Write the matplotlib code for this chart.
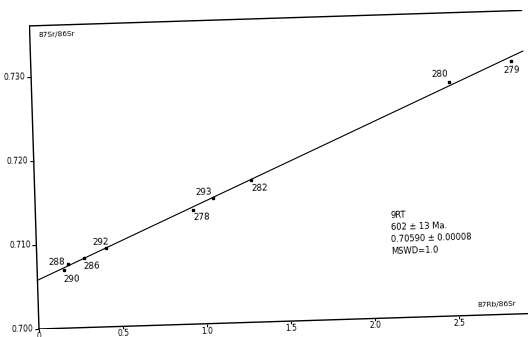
import matplotlib
matplotlib.use("Agg")
import matplotlib.pyplot as plt
import numpy as np
from matplotlib.transforms import Affine2D
from mpl_toolkits.axisartist import floating_axes
from mpl_toolkits.axisartist.grid_finder import FixedLocator, DictFormatter

# ---------------- data ----------------
sample_ids = ["290", "288", "286", "292", "278", "293", "282", "280", "279"]
rb_sr = [0.160, 0.185, 0.281, 0.414, 0.938, 1.060, 1.289, 2.485, 2.858]
sr_sr = [0.70693, 0.70763, 0.70828, 0.70939, 0.71358, 0.71494, 0.71694, 0.72786, 0.73012]

iso_intercept = 0.7058
iso_slope = 0.00869

x_ticks = [0.0, 0.5, 1.0, 1.5, 2.0, 2.5]
x_tick_labels = ["0", "0.5", "1.0", "1.5", "2.0", "2.5"]
y_ticks = [0.700, 0.710, 0.720, 0.730]
y_tick_labels = ["0.700", "0.710", "0.720", "0.730"]

info_lines = ["9RT", "602 \u00b1 13 Ma.", "0.70590 \u00b1 0.00008", "MSWD=1.0"]

# ---------------- layout ----------------
X_MIN, X_MAX = 0.0, 2.93
Y_MIN, Y_MAX = 0.700, 0.7361
ROT = 1.8  # scan rotation in degrees

W, H = 528, 337
fig = plt.figure(figsize=(W / 100, H / 100), dpi=100)
fig.patch.set_facecolor("white")

tr = (Affine2D().translate(-X_MIN, -Y_MIN).scale(168, 8400)
      .rotate_deg(ROT).translate(39, 8))

corners = tr.transform(np.array([[X_MIN, Y_MIN], [X_MAX, Y_MIN],
                                 [X_MIN, Y_MAX], [X_MAX, Y_MAX]]))
bx0, by0 = corners.min(axis=0)
bx1, by1 = corners.max(axis=0)

grid_helper = floating_axes.GridHelperCurveLinear(
    tr, extremes=(X_MIN, X_MAX, Y_MIN, Y_MAX),
    grid_locator1=FixedLocator(x_ticks),
    tick_formatter1=DictFormatter(dict(zip(x_ticks, x_tick_labels))),
    grid_locator2=FixedLocator(y_ticks),
    tick_formatter2=DictFormatter(dict(zip(y_ticks, y_tick_labels))),
)

ax = fig.add_axes([bx0 / W, by0 / H, (bx1 - bx0) / W, (by1 - by0) / H],
                  axes_class=floating_axes.FloatingAxes,
                  grid_helper=grid_helper)
ax.set_xlim(bx0, bx1)
ax.set_ylim(by0, by1)

for side in ["left", "bottom", "top", "right"]:
    a = ax.axis[side]
    a.line.set_linewidth(1.0)
    a.line.set_color("black")
for side in ["top", "right"]:
    ax.axis[side].major_ticks.set_visible(False)
    ax.axis[side].major_ticklabels.set_visible(False)
ax.axis["right"].set_visible(False)

ax.axis["left"].major_ticks.set_tick_out(True)
ax.axis["left"].major_ticks.set_ticksize(3)
ax.axis["left"].major_ticks.set_linewidth(0.8)
ax.axis["left"].major_ticklabels.set_fontsize(5.5)
ax.axis["left"].major_ticklabels.set_pad(1.0)

ax.axis["bottom"].major_ticks.set_tick_out(True)
ax.axis["bottom"].major_ticks.set_ticksize(2)
ax.axis["bottom"].major_ticks.set_linewidth(0.8)
ax.axis["bottom"].major_ticklabels.set_fontsize(5.5)
ax.axis["bottom"].major_ticklabels.set_pad(0.0)

aux = ax.get_aux_axes(tr)

# isochron line
xl = np.array([X_MIN, X_MAX])
aux.plot(xl, iso_intercept + iso_slope * xl, color="black", lw=0.8)

# points
aux.plot(rb_sr, sr_sr, linestyle="none", marker="s", markersize=2.0,
         color="black")

label_offsets = [(5.8, -6.5), (-7.9, 1.4), (5.8, -5.8), (-3.6, 4.3),
                 (6.5, -5.0), (-6.5, 4.3), (6.5, -5.8), (-6.5, 5.8),
                 (0.7, -6.5)]
for sid, xv, yv, off in zip(sample_ids, rb_sr, sr_sr, label_offsets):
    aux.annotate(sid, (xv, yv), xytext=off, textcoords="offset points",
                 ha="center", va="center", fontsize=6.3, rotation=ROT)

aux.text(0.049, 0.73535, "87Sr/86Sr", fontsize=5.3, ha="left", va="top",
         rotation=ROT, rotation_mode="anchor")
aux.text(2.615, 0.70086, "87Rb/86Sr", fontsize=5.3, ha="left", va="bottom",
         rotation=ROT, rotation_mode="anchor")
aux.text(2.11, 0.71273, "\n".join(info_lines), fontsize=6.0, ha="left",
         va="top", linespacing=1.45, rotation=ROT, rotation_mode="anchor")

ax.set_xlim(bx0, bx1)
ax.set_ylim(by0, by1)

fig.savefig("out.png", dpi=100, facecolor="white")
